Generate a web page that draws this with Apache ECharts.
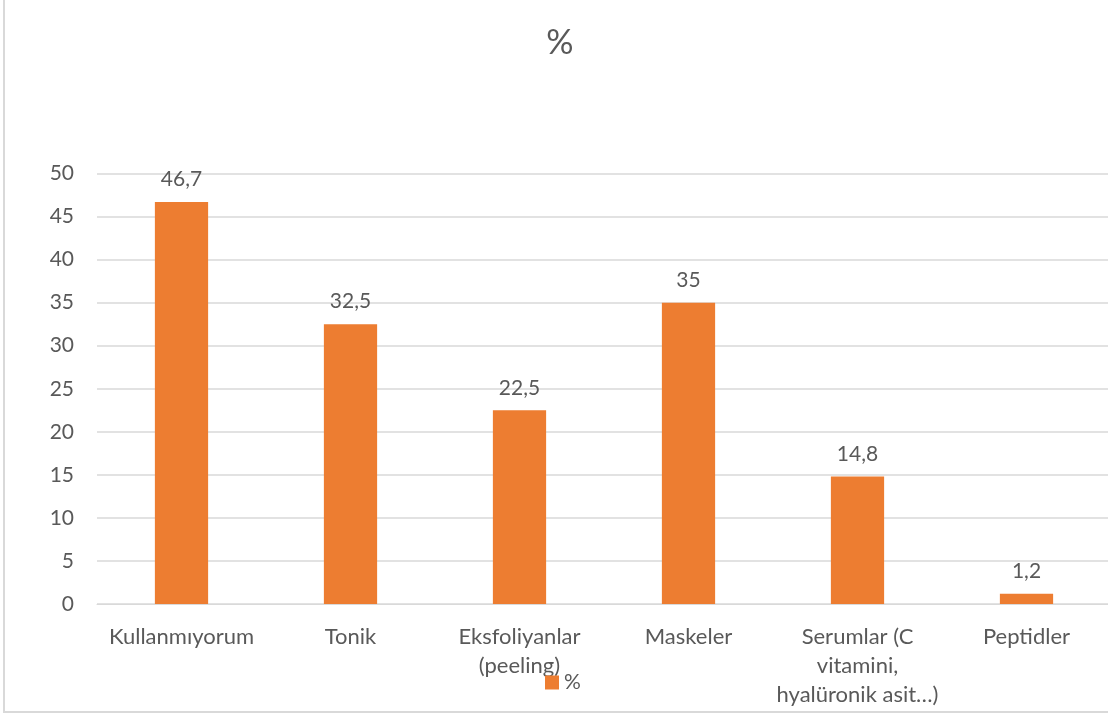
<!DOCTYPE html>
<html>
<head>
<meta charset="utf-8">
<script src="https://cdn.jsdelivr.net/npm/echarts@6/dist/echarts.min.js"></script>
<style>
  html, body { margin: 0; padding: 0; overflow: hidden; background: #fff; }
  #chart { width: 1111px; height: 718px; }
</style>
</head>
<body>
<div id="chart"></div>
<script>
// Skin-care products used (%)
const categories = [
  'Kullanmıyorum',
  'Tonik',
  'Eksfoliyanlar\n(peeling)',
  'Maskeler',
  'Serumlar (C\nvitamini,\nhyalüronik asit…)',
  'Peptidler'
];
const values = [46.7, 32.5, 22.5, 35, 14.8, 1.2];
const seriesName = '%';
const yTicks = { min: 0, max: 50, interval: 5 };

const textColor = '#595959';
const font = 'Lato, "Open Sans", sans-serif';
const comma = v => String(v).replace('.', ',');

const chart = echarts.init(document.getElementById('chart'));
chart.setOption({
  animation: false,
  textStyle: { fontFamily: font },
  title: {
    text: seriesName,
    left: 555, top: 21,
    textAlign: 'center',
    textStyle: { fontFamily: font, fontSize: 34, fontWeight: 'normal', color: textColor }
  },
  legend: {
    data: [seriesName],
    left: 540, top: 667,
    itemWidth: 14, itemHeight: 14, itemGap: 5,
    icon: 'rect',
    textStyle: { fontFamily: font, fontSize: 21, color: textColor }
  },
  grid: { left: 97, right: 0, top: 173.5, bottom: 114, containLabel: false },
  xAxis: {
    type: 'category',
    data: categories,
    axisLine: { lineStyle: { color: '#D9D9D9', width: 1 } },
    axisTick: { show: false },
    axisLabel: {
      interval: 0, margin: 18,
      fontFamily: font, fontSize: 22, color: textColor,
      lineHeight: 29, align: 'center'
    }
  },
  yAxis: {
    type: 'value',
    min: yTicks.min, max: yTicks.max, interval: yTicks.interval,
    axisLine: { show: false },
    axisTick: { show: false },
    splitLine: { lineStyle: { color: '#D9D9D9', width: 1.5 } },
    axisLabel: { margin: 23, fontFamily: font, fontSize: 21, color: textColor }
  },
  graphic: [{
    type: 'rect',
    shape: { x: 4, y: -10, width: 1200, height: 722 },
    style: { fill: 'none', stroke: '#D9D9D9', lineWidth: 2 },
    silent: true
  }],
  series: [{
    name: seriesName,
    type: 'bar',
    data: values,
    barWidth: '31.5%',
    itemStyle: { color: '#ED7D31' },
    label: {
      show: true, position: 'top', distance: 12,
      fontFamily: font, fontSize: 21, color: textColor,
      formatter: p => comma(p.value)
    }
  }]
});
</script>
</body>
</html>
